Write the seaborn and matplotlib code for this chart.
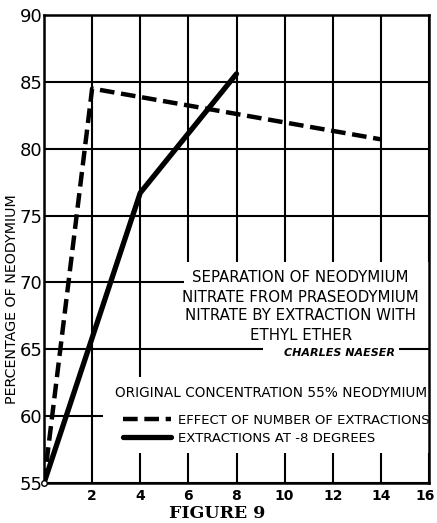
import pandas as pd
import matplotlib
matplotlib.use("Agg")
import matplotlib.pyplot as plt
import matplotlib.transforms as mtrans
import seaborn as sns
from matplotlib.patches import Rectangle

# data
extractions = [0, 2, 14]
pct_extractions = [55.0, 84.5, 80.7]
degrees_x = [0, 4, 8]
pct_degrees = [55.0, 76.7, 85.6]

x_ticks = [0, 2, 4, 6, 8, 10, 12, 14, 16]
x_labels = ["", "2", "4", "6", "8", "10", "12", "14", "16"]
y_ticks = [55, 60, 65, 70, 75, 80, 85, 90]

title_lines = ["SEPARATION OF NEODYMIUM",
               "NITRATE FROM PRASEODYMIUM",
               "NITRATE BY EXTRACTION WITH",
               "ETHYL ETHER"]
author = "CHARLES NAESER"
note = "ORIGINAL CONCENTRATION 55% NEODYMIUM"
series_names = ["EFFECT OF NUMBER OF EXTRACTIONS", "EXTRACTIONS AT -8 DEGREES"]

df1 = pd.DataFrame({"x": extractions, "y": pct_extractions, "s": series_names[0]})
df2 = pd.DataFrame({"x": degrees_x, "y": pct_degrees, "s": series_names[1]})

sns.set_style("white")
plt.rcParams["font.family"] = ["DejaVu Sans"]
plt.rcParams["text.color"] = "black"
plt.rcParams["xtick.color"] = "black"
plt.rcParams["ytick.color"] = "black"

fig = plt.figure(figsize=(4.37, 5.23), dpi=100)
ax = fig.add_axes([44 / 437, 1 - 483 / 523, 385 / 437, 468 / 523])

sns.lineplot(data=df1, x="x", y="y", color="black", lw=3.2, ax=ax, zorder=5)
sns.lineplot(data=df2, x="x", y="y", color="black", lw=3.8, ax=ax, zorder=5)
l1, l2 = ax.lines[0], ax.lines[1]
l1.set_dashes((3.3, 1.5))
l1.set_solid_capstyle("butt")
# little open circle at the origin point
ax.plot(extractions[:1], pct_extractions[:1], marker="o", ms=4, mfc="white",
        mec="black", mew=1, zorder=6, clip_on=False)

ax.set_xlim(0, 16)
ax.set_ylim(55, 90)
ax.set_xticks(x_ticks)
ax.set_xticklabels(x_labels, fontsize=10, fontweight="bold")
ax.set_yticks(y_ticks)
ax.set_yticklabels([str(v) for v in y_ticks], fontsize=13)
ax.tick_params(length=0, pad=1)
ax.tick_params(axis="x", pad=4)
last = ax.get_xticklabels()[-1]
last.set_transform(last.get_transform() + mtrans.ScaledTranslation(-4 / 100, 0, fig.dpi_scale_trans))
ax.grid(True, color="black", lw=1.5, zorder=0)
ax.set_axisbelow(True)
for sp in ax.spines.values():
    sp.set_color("black")
    sp.set_linewidth(1.8)
ax.set_xlabel("")
ax.set_ylabel("")

# blank panels where the caption sits on the grid
ax.add_patch(Rectangle((5.8, 62.9), 10.2, 8.6, facecolor="white", edgecolor="none", zorder=1))
ax.add_patch(Rectangle((2.46, 57.25), 13.54, 5.65, facecolor="white", edgecolor="none", zorder=1))
ax.hlines(65, 5.8, 9.1, color="black", lw=1.5, zorder=2)
ax.hlines(65, 14.75, 16, color="black", lw=1.5, zorder=2)

cx = (300 - 44) / 24
for i, t in enumerate(title_lines):
    ax.text(cx, 90 - (278 + 19 * i - 15) / 468 * 35, t, ha="center", va="center",
            fontsize=10.8, zorder=3)
ax.text((339 - 44) / 24, 90 - (353 - 15) / 468 * 35, author, ha="center", va="center",
        fontsize=8, style="italic", fontweight="bold", zorder=3)
ax.text((270 - 44) / 24, 90 - (393 - 15) / 468 * 35, note, ha="center", va="center",
        fontsize=9.8, zorder=3)

leg = ax.legend([l1, l2], series_names, loc="upper left",
                bbox_to_anchor=(123 / 437, 1 - 414 / 523), bbox_transform=fig.transFigure,
                frameon=False, fontsize=9.5, handlelength=3.6, handletextpad=0.6,
                labelspacing=0.35, borderpad=0, borderaxespad=0)

fig.text(12 / 437, 1 - 299 / 523, "PERCENTAGE OF NEODYMIUM", rotation=90,
         ha="center", va="center", fontsize=10.3)
fig.text(217 / 437, 1 - 514 / 523, "FIGURE 9", ha="center", va="center",
         fontsize=12.5, fontweight="bold", family="DejaVu Serif")

fig.savefig("out.png", dpi=100)
